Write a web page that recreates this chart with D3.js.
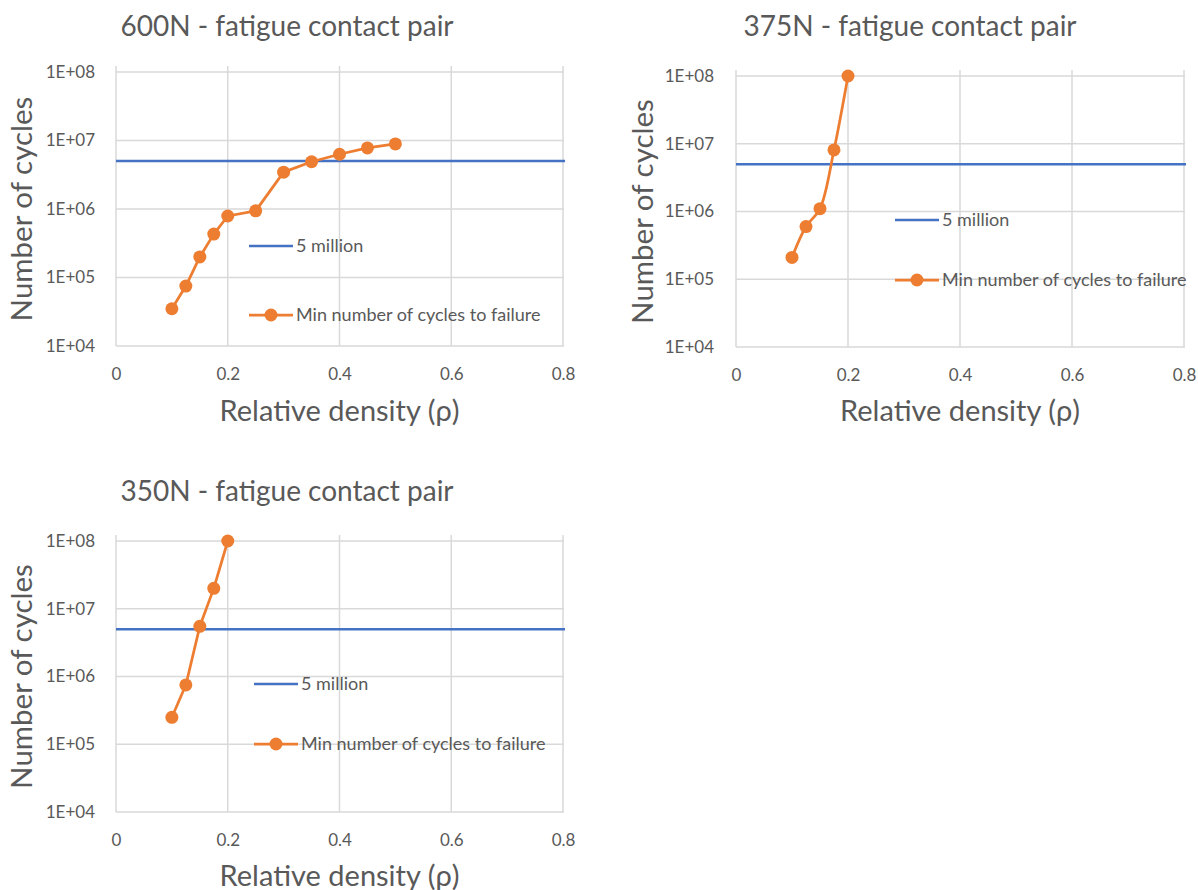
<!DOCTYPE html>
<html>
<head>
<meta charset="utf-8">
<script src="https://cdn.jsdelivr.net/npm/d3@7"></script>
<style>
  html, body { margin: 0; padding: 0; background: #fff; overflow: hidden; }
  svg { display: block; }
  text { font-family: Lato, "Open Sans", sans-serif; fill: #595959; }
</style>
</head>
<body>
<svg id="chart" width="1198" height="890"></svg>
<script>
// Relative density values per load case
const density600 = [0.1, 0.125, 0.15, 0.175, 0.2, 0.25, 0.3, 0.35, 0.4, 0.45, 0.5];
const cycles600  = [3.5e4, 7.5e4, 2.0e5, 4.3e5, 7.9e5, 9.4e5, 3.45e6, 4.9e6, 6.3e6, 7.8e6, 8.9e6];

const density375 = [0.1, 0.125, 0.15, 0.175, 0.2];
const cycles375  = [2.1e5, 6.0e5, 1.1e6, 8.1e6, 1e8];

const density350 = [0.1, 0.125, 0.15, 0.175, 0.2];
const cycles350  = [2.5e5, 7.5e5, 5.5e6, 2.0e7, 1e8];

const threshold = 5e6;            // 5 million cycle reference line
const xTicks = [0, 0.2, 0.4, 0.6, 0.8];
const yTicks = [1e4, 1e5, 1e6, 1e7, 1e8];
const titles = ["600N - fatigue contact pair", "375N - fatigue contact pair", "350N - fatigue contact pair"];
const seriesNames = ["5 million", "Min number of cycles to failure"];

const BLUE = "#4472C4", ORANGE = "#ED7D31", GRID = "#d9d9d9";
const FONT = "Lato, 'Open Sans', sans-serif";

const svg = d3.select("#chart");

const panels = [
  { title: titles[0], xs: density600, ys: cycles600, smooth: false,
    left: 116, right: 563, top: 72, bottom: 346, labelRight: 95,
    titleX: 287, titleY: 36, yLabelX: 32, xLabelY: 421, legX: 249, legY1: 246, legY2: 315 },
  { title: titles[1], xs: density375, ys: cycles375, smooth: true,
    left: 736, right: 1184, top: 76, bottom: 347, labelRight: 714,
    titleX: 910, titleY: 36, yLabelX: 653, xLabelY: 421, legX: 895, legY1: 220, legY2: 280 },
  { title: titles[2], xs: density350, ys: cycles350, smooth: false,
    left: 116, right: 563, top: 541, bottom: 812, labelRight: 95,
    titleX: 287, titleY: 501, yLabelX: 32, xLabelY: 886, legX: 254, legY1: 684, legY2: 744 }
];

const fmtY = d => "1E+" + String(Math.round(Math.log10(d))).padStart(2, "0");
const fmtX = d => d === 0 ? "0" : String(d);

panels.forEach(p => {
  const g = svg.append("g");
  const x = d3.scaleLinear().domain([0, 0.8]).range([p.left, p.right]);
  const y = d3.scaleLog().domain([1e4, 1e8]).range([p.bottom, p.top]);

  // gridlines
  g.append("g").selectAll("line").data(xTicks).join("line")
    .attr("x1", d => x(d)).attr("x2", d => x(d))
    .attr("y1", p.top - 6).attr("y2", p.bottom)
    .attr("stroke", GRID).attr("stroke-width", 1.5);
  g.append("g").selectAll("line").data(yTicks).join("line")
    .attr("x1", p.left).attr("x2", p.right + 1)
    .attr("y1", d => y(d)).attr("y2", d => y(d))
    .attr("stroke", GRID).attr("stroke-width", 1.5);

  // axes (labels only, lines are the gridlines)
  const xAxis = d3.axisBottom(x).tickValues(xTicks).tickFormat(fmtX).tickSize(0).tickPadding(22);
  const gx = g.append("g").attr("transform", `translate(0,${p.bottom})`).call(xAxis);
  gx.select(".domain").remove();
  gx.selectAll("text").attr("font-size", 17).attr("fill", "#595959").style("font-family", FONT);

  const yAxis = d3.axisLeft(y).tickValues(yTicks).tickFormat(fmtY).tickSize(0)
    .tickPadding(p.left - p.labelRight);
  const gy = g.append("g").attr("transform", `translate(${p.left},0)`).call(yAxis);
  gy.select(".domain").remove();
  gy.selectAll("text").attr("font-size", 17).attr("fill", "#595959").style("font-family", FONT);

  // title and axis titles
  g.append("text").attr("x", p.titleX).attr("y", p.titleY)
    .attr("text-anchor", "middle").attr("font-size", 28).text(p.title);
  g.append("text")
    .attr("transform", `translate(${p.yLabelX},${(p.top + p.bottom) / 2}) rotate(-90)`)
    .attr("text-anchor", "middle").attr("font-size", 29.5).text("Number of cycles");
  g.append("text").attr("x", (p.left + p.right) / 2).attr("y", p.xLabelY)
    .attr("text-anchor", "middle").attr("font-size", 29).text("Relative density (ρ)");

  // 5 million reference line
  g.append("line")
    .attr("x1", x(0)).attr("x2", x(0.8) + 2)
    .attr("y1", y(threshold)).attr("y2", y(threshold))
    .attr("stroke", BLUE).attr("stroke-width", 2.5);

  // cycles to failure series
  const pts = p.xs.map((d, i) => [d, p.ys[i]]);
  const line = d3.line().x(d => x(d[0])).y(d => y(d[1]))
    .curve(p.smooth ? d3.curveCatmullRom.alpha(0.5) : d3.curveLinear);
  g.append("path").datum(pts).attr("d", line)
    .attr("fill", "none").attr("stroke", ORANGE).attr("stroke-width", 2.75)
    .attr("stroke-linejoin", "round");
  g.append("g").selectAll("circle").data(pts).join("circle")
    .attr("cx", d => x(d[0])).attr("cy", d => y(d[1])).attr("r", 6.5)
    .attr("fill", ORANGE);

  // legend
  const lg = g.append("g");
  lg.append("line").attr("x1", p.legX).attr("x2", p.legX + 44)
    .attr("y1", p.legY1).attr("y2", p.legY1)
    .attr("stroke", BLUE).attr("stroke-width", 2.5);
  lg.append("text").attr("x", p.legX + 47).attr("y", p.legY1 + 6)
    .attr("font-size", 18).text(seriesNames[0]);
  lg.append("line").attr("x1", p.legX).attr("x2", p.legX + 44)
    .attr("y1", p.legY2).attr("y2", p.legY2)
    .attr("stroke", ORANGE).attr("stroke-width", 2.75);
  lg.append("circle").attr("cx", p.legX + 22).attr("cy", p.legY2).attr("r", 6.5).attr("fill", ORANGE);
  lg.append("text").attr("x", p.legX + 47).attr("y", p.legY2 + 6)
    .attr("font-size", 18).text(seriesNames[1]);
});
</script>
</body>
</html>
